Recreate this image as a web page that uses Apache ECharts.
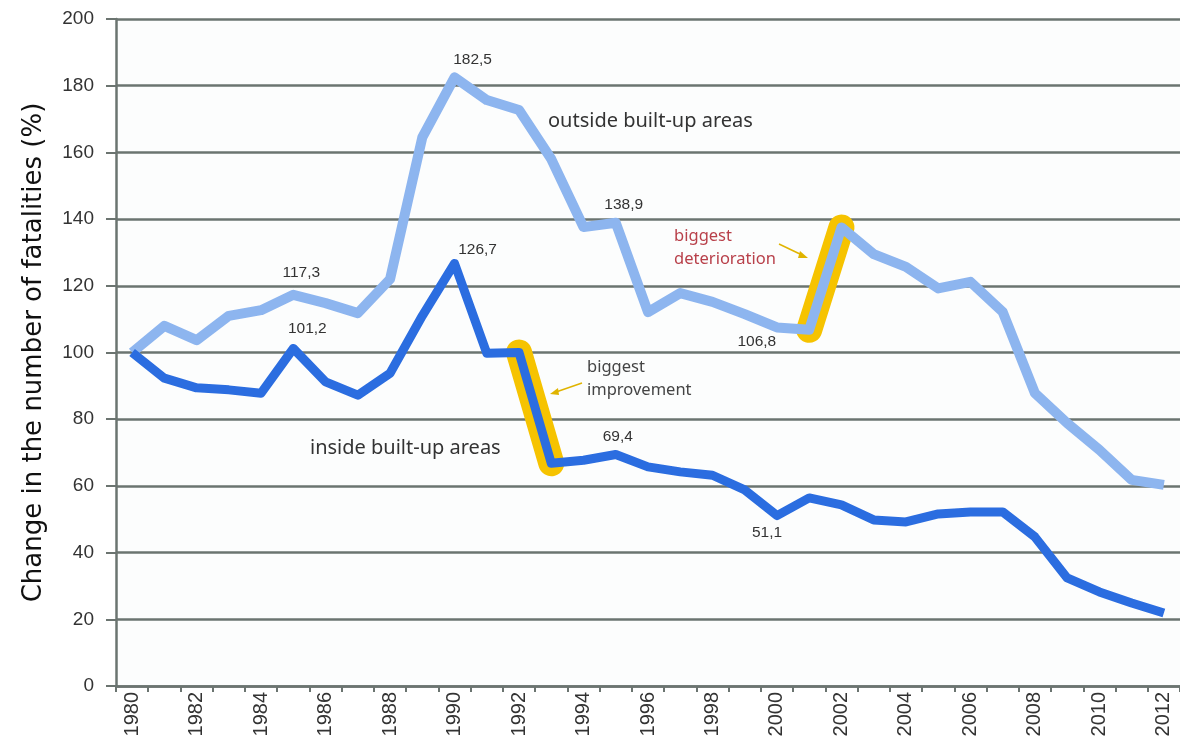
<!DOCTYPE html>
<html lang="en">

<head>
    <meta charset="UTF-8">
    <title>Fatalities</title>
    <script src="https://cdn.jsdelivr.net/npm/echarts@6/dist/echarts.min.js"></script>
    <style>
        html,
        body {
            margin: 0;
            padding: 0;
            height: 100%;
            overflow: hidden;
            background: #fff;
        }

        #main {
            width: 1180px;
            height: 742px;
        }
    </style>
</head>

<body>
    <div id="main"></div>
    <script>
        var years = [];
        for (var y = 1980; y <= 2012; y++) years.push(String(y));

        // outside built-up areas
        var outside = [100, 108, 103.7, 111, 112.7, 117.3, 114.8, 111.8, 122, 164.5,
            182.5, 175.7, 172.7, 158, 137.6, 138.9, 112.1, 117.8, 115.2, 111.5,
            107.5, 106.8, 137.5, 129.5, 125.7, 119.2, 121.2, 112.2, 87.8, 78.8,
            70.8, 61.8, 60.3];
        // inside built-up areas
        var inside = [100, 92.3, 89.4, 88.8, 87.8, 101.2, 91.2, 87.2, 93.8, 111,
            126.7, 99.8, 100, 66.8, 67.7, 69.4, 65.7, 64.2, 63.2, 58.8,
            51.1, 56.4, 54.3, 49.8, 49.2, 51.6, 52.2, 52.2, 44.7, 32.4,
            28.2, 24.9, 21.9];

        var yMin = 0, yMax = 200, yStep = 20;

        var grey = '#6b7470';
        var lightBlue = '#8db5ef';
        var darkBlue = '#2b6de0';
        var yellow = '#f6c300';

        function fmt(v) {
            return String(v).replace('.', ',');
        }

        // which points get a value label, and where it sits
        function labelled(values, spots) {
            return values.map(function (v, i) {
                if (!spots[i]) return v;
                return {
                    value: v,
                    label: Object.assign({
                        show: true,
                        formatter: fmt(v),
                        color: '#333',
                        fontSize: 15.5,
                        fontFamily: 'Liberation Sans'
                    }, spots[i])
                };
            });
        }

        var outsideData = labelled(outside, {
            5: { position: 'top', distance: 14, offset: [8, 0] },
            10: { position: 'top', distance: 10, offset: [18, 0] },
            15: { position: 'top', distance: 10, offset: [8, 0] },
            21: { position: 'left', distance: 33, offset: [0, 12] }
        });
        var insideData = labelled(inside, {
            5: { position: 'top', distance: 12, offset: [14, 0] },
            10: { position: 'top', distance: 6, offset: [23, 0] },
            15: { position: 'top', distance: 10, offset: [2, 0] },
            20: { position: 'bottom', distance: 9, offset: [-10, 0] }
        });

        function highlight(values, from) {
            return values.map(function (v, i) {
                return (i === from || i === from + 1) ? v : null;
            });
        }

        var chart = echarts.init(document.getElementById('main'));
        var option = {
            backgroundColor: '#fff',
            animation: false,
            grid: {
                left: 116,
                right: 0,
                top: 19,
                bottom: 56,
                show: true,
                backgroundColor: '#fcfdfd',
                borderWidth: 0
            },
            xAxis: {
                type: 'category',
                data: years,
                boundaryGap: true,
                axisLine: { lineStyle: { color: grey, width: 2.5 } },
                axisTick: { show: true, interval: 0, length: 6, lineStyle: { color: grey, width: 2 } },
                axisLabel: {
                    interval: 1,
                    rotate: 90,
                    color: '#333',
                    fontSize: 20,
                    fontFamily: 'Liberation Sans',
                    margin: 6
                }
            },
            yAxis: {
                type: 'value',
                min: yMin,
                max: yMax,
                interval: yStep,
                name: 'Change in the number of fatalities (%)',
                nameLocation: 'middle',
                nameGap: 69,
                nameTextStyle: { fontSize: 26, color: '#111', fontFamily: 'DejaVu Sans' },
                axisLine: { show: true, lineStyle: { color: grey, width: 2.5 } },
                axisTick: { show: true, length: 10, lineStyle: { color: grey, width: 2 } },
                axisLabel: {
                    color: '#333',
                    fontSize: 19,
                    fontFamily: 'Liberation Sans',
                    margin: 22
                },
                splitLine: { lineStyle: { color: grey, width: 2.5 } }
            },
            series: [{
                    name: 'improvement',
                    type: 'line',
                    data: highlight(inside, 12),
                    symbol: 'none',
                    z: 1,
                    lineStyle: { color: yellow, width: 26, cap: 'round', join: 'round' }
                },
                {
                    name: 'deterioration',
                    type: 'line',
                    data: highlight(outside, 21),
                    symbol: 'none',
                    z: 1,
                    lineStyle: { color: yellow, width: 26, cap: 'round', join: 'round' }
                },
                {
                    name: 'outside built-up areas',
                    type: 'line',
                    data: outsideData,
                    symbol: 'circle',
                    symbolSize: 0,
                    showSymbol: true,
                    z: 3,
                    lineStyle: { color: lightBlue, width: 10, join: 'round' },
                    itemStyle: { color: lightBlue }
                },
                {
                    name: 'inside built-up areas',
                    type: 'line',
                    data: insideData,
                    symbol: 'circle',
                    symbolSize: 0,
                    showSymbol: true,
                    z: 4,
                    lineStyle: { color: darkBlue, width: 9, join: 'round' },
                    itemStyle: { color: darkBlue }
                }
            ],
            graphic: [{
                    type: 'text',
                    left: 548,
                    top: 111,
                    style: { text: 'outside built-up areas', fontSize: 20, fill: '#333', fontFamily: 'Noto Sans' }
                },
                {
                    type: 'text',
                    left: 310,
                    top: 438,
                    style: { text: 'inside built-up areas', fontSize: 20, fill: '#333', fontFamily: 'Noto Sans' }
                },
                {
                    type: 'text',
                    left: 587,
                    top: 356,
                    style: { text: 'biggest\nimprovement', fontSize: 16.5, lineHeight: 23, fill: '#444', fontFamily: 'Noto Sans' }
                },
                {
                    type: 'text',
                    right: 1180 - 776,
                    top: 225,
                    style: { text: 'biggest\ndeterioration', fontSize: 16.5, lineHeight: 23, fill: '#b8404a', align: 'right', fontFamily: 'Noto Sans' }
                },
                {
                    type: 'line',
                    shape: { x1: 582, y1: 383, x2: 556, y2: 392 },
                    style: { stroke: '#e0b400', lineWidth: 1.5 }
                },
                {
                    type: 'polygon',
                    shape: { points: [[550, 394], [558, 388], [559, 395]] },
                    style: { fill: '#e0b400' }
                },
                {
                    type: 'line',
                    shape: { x1: 779, y1: 244, x2: 802, y2: 255 },
                    style: { stroke: '#e0b400', lineWidth: 1.5 }
                },
                {
                    type: 'polygon',
                    shape: { points: [[808, 258], [800, 251], [798, 258]] },
                    style: { fill: '#e0b400' }
                }
            ]
        };
        chart.setOption(option);
    </script>
</body>

</html>
